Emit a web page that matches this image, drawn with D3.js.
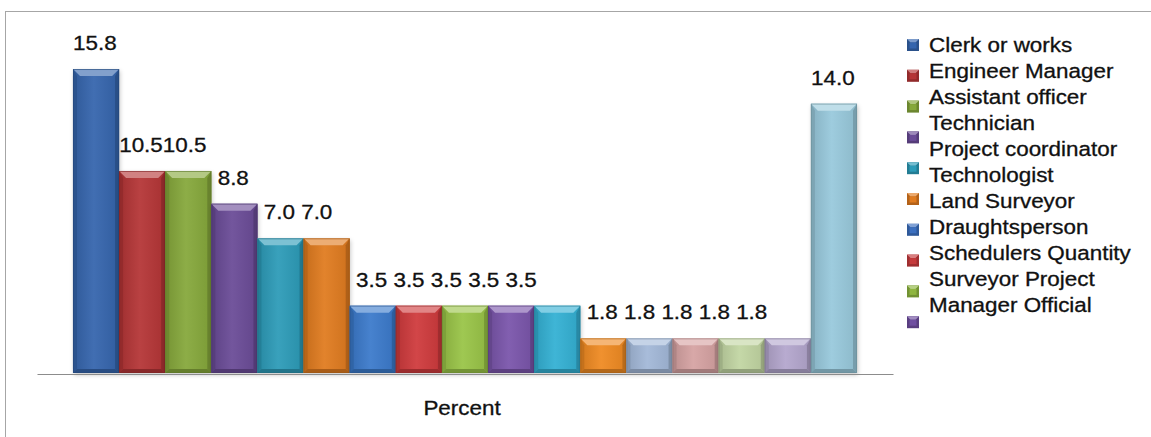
<!DOCTYPE html>
<html>
<head>
<meta charset="utf-8">
<script src="https://cdn.jsdelivr.net/npm/d3@7"></script>
<style>
  html, body { margin: 0; padding: 0; background: #fff; }
  svg { display: block; }
  text { font-family: "Liberation Sans", Arial, sans-serif; fill: #111; stroke: #111; stroke-width: 0.3; }
</style>
</head>
<body>
<svg id="chart" width="1151" height="437"></svg>
<script>
// Share of respondents by job title (percent)
const categories = ["c1","c2","c3","c4","c5","c6","c7","c8","c9","c10","c11","c12","c13","c14","c15","c16","c17"];
const values = [15.8, 10.5, 10.5, 8.8, 7.0, 7.0, 3.5, 3.5, 3.5, 3.5, 3.5, 1.8, 1.8, 1.8, 1.8, 1.8, 14.0];
const barColors = ["#3565ad", "#b53536", "#86a83b", "#6a4b97", "#2c9bb8", "#e07b1f",
                   "#3b7acb", "#cf3a3c", "#99c447", "#7a55ab", "#33b0d3", "#ef8a22",
                   "#a2b8d8", "#d6a2a2", "#c1d5a2", "#b3a6cd", "#98c9dc"];
const legendLines = ["Clerk or works", "Engineer Manager", "Assistant officer", "Technician",
                     "Project coordinator", "Technologist", "Land Surveyor", "Draughtsperson",
                     "Schedulers Quantity", "Surveyor Project", "Manager Official"];
const legendColors = ["#3565ad", "#b53536", "#86a83b", "#6a4b97", "#2c9bb8", "#e07b1f",
                      "#3b6fbf", "#c53a3c", "#8fb640", "#6f4ea0"];
const axisTitle = "Percent";

const svg = d3.select("#chart");
const stretch = 1.15;

// frame
svg.append("rect")
  .attr("x", 5.5).attr("y", 11.5)
  .attr("width", 1200).attr("height", 500)
  .attr("fill", "none").attr("stroke", "#a6a6a6").attr("stroke-width", 1);

const baseY = 373;
const x = d3.scaleBand().domain(categories).range([37, 893]).paddingInner(0).paddingOuter(0.78);
const y = d3.scaleLinear().domain([0, 16]).range([baseY, baseY - 16 * 19.24]);

const defs = svg.append("defs");
const blur = defs.append("filter").attr("id", "shadow").attr("x", "-20%").attr("y", "-5%").attr("width", "140%").attr("height", "115%");
blur.append("feGaussianBlur").attr("stdDeviation", 2);

function mix(c, target, t) { return d3.interpolateRgb(c, target)(t); }

const bars = svg.append("g");
categories.forEach((c, i) => {
  const v = values[i];
  const col = barColors[i];
  const x0 = x(c), w = x.bandwidth(), y0 = y(v), h = baseY - y0;
  const g = bars.append("g");
  // soft drop shadow
  g.append("rect").attr("x", x0 + 1).attr("y", y0 + 2).attr("width", w).attr("height", h)
    .attr("fill", "rgba(0,0,0,0.22)").attr("filter", "url(#shadow)");
  const gid = "grad" + i;
  const lg = defs.append("linearGradient").attr("id", gid).attr("x1", 0).attr("x2", 1).attr("y1", 0).attr("y2", 0);
  lg.append("stop").attr("offset", "0%").attr("stop-color", mix(col, "#000", 0.12));
  lg.append("stop").attr("offset", "45%").attr("stop-color", mix(col, "#fff", 0.06));
  lg.append("stop").attr("offset", "100%").attr("stop-color", mix(col, "#000", 0.08));
  g.append("rect").attr("x", x0).attr("y", y0).attr("width", w).attr("height", h).attr("fill", `url(#${gid})`);
  const b = Math.min(7, h / 2.2), s = 4;
  // top bevel
  g.append("path").attr("d", `M${x0},${y0}L${x0 + w},${y0}L${x0 + w - b},${y0 + b}L${x0 + b},${y0 + b}Z`)
    .attr("fill", mix(col, "#fff", 0.38));
  // left and right bevels
  g.append("path").attr("d", `M${x0},${y0}L${x0 + s},${y0 + b}L${x0 + s},${baseY - s}L${x0},${baseY}Z`)
    .attr("fill", mix(col, "#000", 0.18));
  g.append("path").attr("d", `M${x0 + w},${y0}L${x0 + w - s},${y0 + b}L${x0 + w - s},${baseY - s}L${x0 + w},${baseY}Z`)
    .attr("fill", mix(col, "#000", 0.22));
  // bottom bevel
  g.append("path").attr("d", `M${x0},${baseY}L${x0 + s},${baseY - s}L${x0 + w - s},${baseY - s}L${x0 + w},${baseY}Z`)
    .attr("fill", mix(col, "#000", 0.25));
  g.append("rect").attr("x", x0 + 0.5).attr("y", y0 + 0.5).attr("width", w - 1).attr("height", h - 1)
    .attr("fill", "none").attr("stroke", mix(col, "#000", 0.3)).attr("stroke-width", 1).attr("opacity", 0.6);
});

// value labels: consecutive equal values share one text run that starts
// centred over the first bar of the run
const runs = [];
values.forEach((v, i) => {
  const last = runs[runs.length - 1];
  if (last && values[last[0]] === v) last.push(i); else runs.push([i]);
});
const labelG = svg.append("g");
runs.forEach(run => {
  const first = run[0];
  const v = values[first];
  const sep = v >= 10 ? "" : " ";
  const cx = x(categories[first]) + x.bandwidth() / 2;
  const t = labelG.append("text")
    .attr("font-size", 19.5)
    .text(v.toFixed(1));
  const firstW = t.node().getComputedTextLength();
  t.text(run.map(k => values[k].toFixed(1)).join(sep))
    .attr("x", -firstW / 2 - 1)
    .attr("transform", `translate(${cx},${y(v) - 19}) scale(${stretch},1)`);
});

// category axis (baseline only)
const axis = svg.append("g").attr("transform", `translate(0,${baseY + 1})`)
  .call(d3.axisBottom(x).tickSize(0).tickFormat(""));
axis.select(".domain").attr("stroke", "#8c8c8c").attr("stroke-width", 1.2);

svg.append("text")
  .attr("transform", `translate(462,415) scale(${stretch},1)`)
  .attr("text-anchor", "middle").attr("font-size", 19.5)
  .text(axisTitle);

// legend
const leg = svg.append("g");
legendColors.forEach((col, i) => {
  const cy = 45 + i * 30.8;
  const m = 12, mx = 907, my = cy - m / 2;
  leg.append("rect").attr("x", mx).attr("y", my).attr("width", m).attr("height", m).attr("fill", mix(col, "#000", 0.2));
  leg.append("path").attr("d", `M${mx},${my}L${mx + m},${my}L${mx + m - 3.5},${my + 3.5}L${mx + 3.5},${my + 3.5}Z`)
    .attr("fill", mix(col, "#fff", 0.35));
  leg.append("rect").attr("x", mx + 2.5).attr("y", my + 3.5).attr("width", m - 5).attr("height", m - 6).attr("fill", col);
});
leg.selectAll("text").data(legendLines).join("text")
  .attr("transform", (d, i) => `translate(929,${52 + i * 26}) scale(${stretch},1)`)
  .attr("font-size", 19.5)
  .text(d => d);
</script>
</body>
</html>
